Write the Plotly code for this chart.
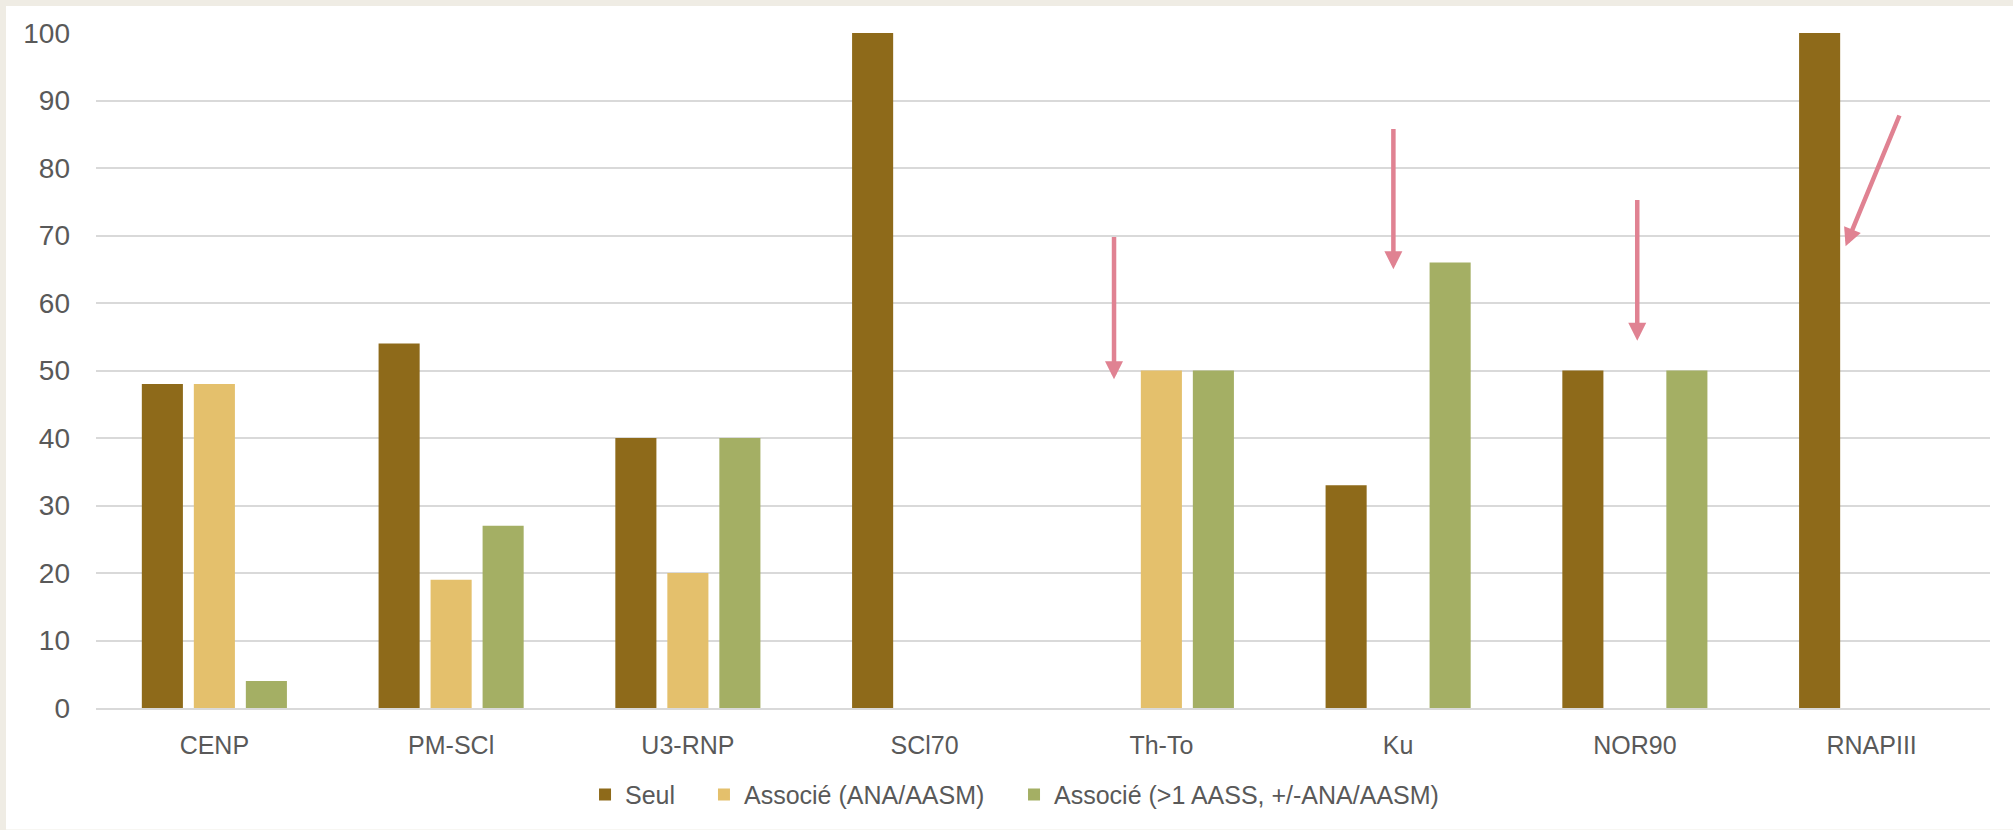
import plotly.graph_objects as go

# Antibody categories and percentage per group
categories = ["CENP", "PM-SCl", "U3-RNP", "SCl70", "Th-To", "Ku", "NOR90", "RNAPIII"]
seul = [48, 54, 40, 100, 0, 33, 50, 100]
associe_ana = [48, 19, 20, 0, 50, 0, 0, 0]
associe_multi = [4, 27, 40, 0, 50, 66, 50, 0]

series_names = ["Seul", "Associé (ANA/AASM)", "Associé (>1 AASS, +/-ANA/AASM)"]
series_colors = ["#8E6A1A", "#E4C06C", "#A4AF64"]
y_ticks = [0, 10, 20, 30, 40, 50, 60, 70, 80, 90, 100]

# Highlight arrows: (tail_x, tail_y, head_x, head_y) in data units
arrows = [
    (3.80, 70, 3.80, 48.7),
    (4.98, 86, 4.98, 65),
    (6.01, 75.5, 6.01, 54.4),
    (7.12, 88, 6.89, 68.4),
]

FONT = "Liberation Sans"
TEXT_COLOR = "#595959"
GRID = "#D9D9D9"

# one legend box per series so the entries can be spaced freely
legend_ids = ["legend", "legend2", "legend3"]
legend_x = [0.2582, 0.3210, 0.4847]

fig = go.Figure()
for name, vals, col, lid in zip(series_names, [seul, associe_ana, associe_multi], series_colors, legend_ids):
    fig.add_trace(go.Bar(x=categories, y=vals, name=name, legend=lid,
                         marker=dict(color=col, line=dict(width=0))))

for tx, ty, hx, hy in arrows:
    fig.add_annotation(
        x=hx, y=hy, ax=tx, ay=ty, xref="x", yref="y", axref="x", ayref="y",
        showarrow=True, arrowhead=2, arrowsize=0.8, arrowwidth=4.5,
        arrowcolor="#E08292", standoff=0, text="",
    )

# White card on a beige page
fig.add_shape(type="rect", xref="paper", yref="paper",
              x0=-0.0475, x1=1.013, y0=-0.18, y1=1.0399,
              fillcolor="white", line=dict(width=0), layer="below")

legend_style = dict(orientation="h", y=-0.1285, xanchor="left", yanchor="middle",
                    font=dict(family=FONT, size=25, color=TEXT_COLOR),
                    bgcolor="rgba(0,0,0,0)", borderwidth=0)

fig.update_layout(
    width=2013, height=830,
    margin=dict(l=96, r=23, t=33, b=120),
    paper_bgcolor="#EFECE4",
    plot_bgcolor="rgba(0,0,0,0)",
    barmode="group", bargap=0.341, bargroupgap=0.21,
    font=dict(family=FONT, size=25, color=TEXT_COLOR),
    showlegend=True,
    legend=dict(x=legend_x[0], **legend_style),
    legend2=dict(x=legend_x[1], **legend_style),
    legend3=dict(x=legend_x[2], **legend_style),
)
fig.update_xaxes(
    showgrid=False, showline=True, linecolor=GRID, linewidth=2,
    ticks="", ticklabelstandoff=14, tickfont=dict(size=25, color=TEXT_COLOR),
    range=[-0.5, 7.5],
)
fig.update_yaxes(
    range=[0, 100], tickvals=y_ticks, showgrid=True, gridcolor=GRID, gridwidth=1.5,
    zeroline=False, showline=False, ticks="", ticklabelstandoff=25,
    tickfont=dict(size=28, color=TEXT_COLOR),
)

fig.write_html("out.html")
